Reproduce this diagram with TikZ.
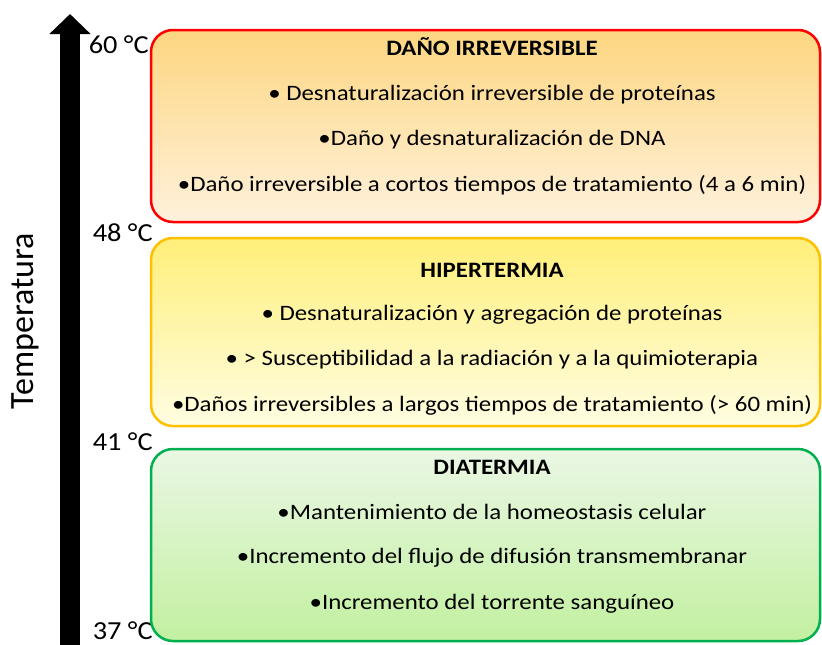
\documentclass[tikz,border=0pt]{standalone}
\usepackage{fontspec}
\setmainfont{Carlito}
\usetikzlibrary{arrows.meta}
\definecolor{danoLine}{HTML}{FF0000}
\definecolor{danoTop}{HTML}{FDD680}
\definecolor{danoBot}{HTML}{FEF1DC}
\definecolor{hiperLine}{HTML}{FFC000}
\definecolor{hiperTop}{HTML}{FFEF7A}
\definecolor{hiperBot}{HTML}{FFFDE2}
\definecolor{diaLine}{HTML}{00B050}
\definecolor{diaTop}{HTML}{EAF7E4}
\definecolor{diaBot}{HTML}{C2F0A0}

\begin{document}
\begin{tikzpicture}[x=1pt,y=-1pt,
  zone/.style={draw,line width=2.5pt,rounded corners=22pt,minimum width=669pt,inner sep=0pt},
  ztitle/.style={anchor=base,xscale=1.13,font=\fontsize{22}{26}\selectfont\bfseries},
  zitem/.style={anchor=base,xscale=1.13,font=\fontsize{22}{26}\selectfont},
  temp/.style={anchor=base west,xscale=1.09,font=\fontsize{26}{30}\selectfont}]
  \useasboundingbox (0,0) rectangle (822,645);

  % temperature axis
  \coordinate (axisbot) at (70,645);
  \coordinate (axistop) at (70,14);
  \draw[line width=20pt,-{Triangle[width=40pt,length=20pt]}] (axisbot) -- (axistop);
  \node[rotate=90,anchor=base,font=\fontsize{34}{39}\selectfont] (taxis) at (33,321) {Temperatura};
  \node[temp] (t60) at (85,53) {60 °C};
  \node[temp] (t48) at (89,241) {48 °C};
  \node[temp] (t41) at (89,450) {41 °C};
  \node[temp] (t37) at (89,639) {37 °C};

  % dano irreversible
  \node[zone,draw=danoLine,top color=danoTop,bottom color=danoBot,minimum height=192pt] (dano) at (485.5,126) {};
  \node[ztitle] (danoT) at (492,55) {DAÑO IRREVERSIBLE};
  \node[zitem] (danoA) at (492,100) {• Desnaturalización irreversible de proteínas};
  \node[zitem] (danoB) at (492,145) {•Daño y desnaturalización de DNA};
  \node[zitem] (danoC) at (492,191) {•Daño irreversible a cortos tiempos de tratamiento (4 a 6 min)};

  % hipertermia
  \node[zone,draw=hiperLine,top color=hiperTop,bottom color=hiperBot,minimum height=188pt] (hiper) at (485.5,332) {};
  \node[ztitle] (hiperT) at (492,277) {HIPERTERMIA};
  \node[zitem] (hiperA) at (492,320) {• Desnaturalización y agregación de proteínas};
  \node[zitem] (hiperB) at (492,365) {• > Susceptibilidad a la radiación y a la quimioterapia};
  \node[zitem] (hiperC) at (492,411) {•Daños irreversibles a largos tiempos de tratamiento (> 60 min)};

  % diatermia
  \node[zone,draw=diaLine,top color=diaTop,bottom color=diaBot,minimum height=192pt] (dia) at (485.5,545) {};
  \node[ztitle] (diaT) at (492,474) {DIATERMIA};
  \node[zitem] (diaA) at (492,519) {•Mantenimiento de la homeostasis celular};
  \node[zitem] (diaB) at (492,563) {•Incremento del flujo de difusión transmembranar};
  \node[zitem] (diaC) at (492,609) {•Incremento del torrente sanguíneo};
\end{tikzpicture}
\end{document}
